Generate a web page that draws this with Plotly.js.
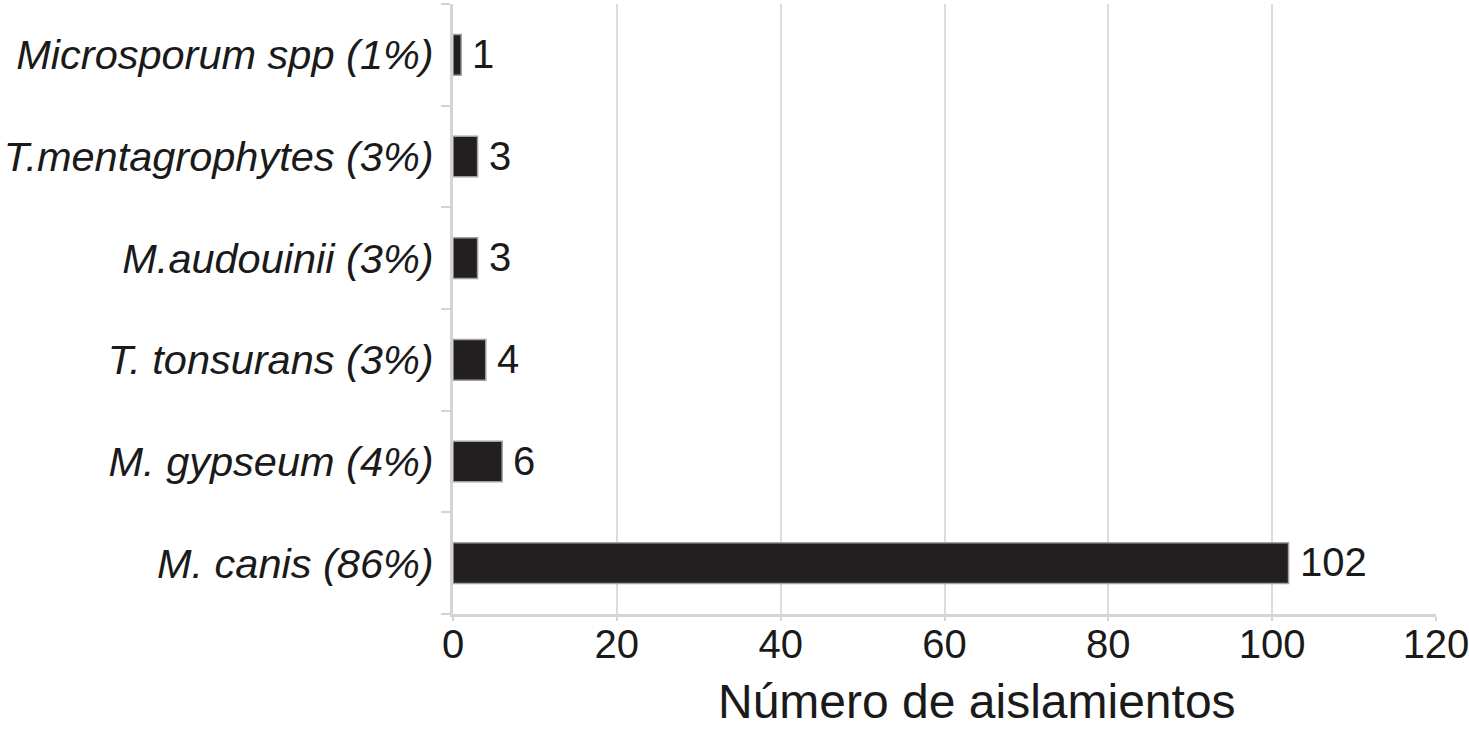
<!DOCTYPE html>
<html>
<head>
<meta charset="utf-8">
<script src="https://cdn.plot.ly/plotly-3.0.1.min.js"></script>
<style>html,body{margin:0;padding:0;background:#fff;}#chart{width:1469px;height:730px;}</style>
</head>
<body>
<div id="chart"></div>
<script>
const categories = ["M. canis (86%)", "M. gypseum (4%)", "T. tonsurans (3%)", "M.audouinii (3%)", "T.mentagrophytes (3%)", "Microsporum spp (1%)"];
const counts = [102, 6, 4, 3, 3, 1];
const xTicks = [0, 20, 40, 60, 80, 100, 120];
const xTitle = "Número de aislamientos";

const trace = {
  type: "bar",
  orientation: "h",
  y: categories,
  x: counts,
  marker: {color: "#231f20", line: {color: "#a0a0a0", width: 1.5}},
  hoverinfo: "x+y"
};

const annotations = categories.map((c, i) => ({
  x: counts[i], y: c, xref: "x", yref: "y",
  text: String(counts[i]), showarrow: false,
  xanchor: "left", xshift: 9, yshift: 1,
  font: {family: "Liberation Sans, Arial, sans-serif", size: 40, color: "#1a1a1a"}
}));
annotations.push({
  x: 0.533, y: 0, xref: "paper", yref: "paper",
  xanchor: "center", yanchor: "middle", yshift: -87,
  text: xTitle, showarrow: false,
  font: {family: "Liberation Sans, Arial, sans-serif", size: 48, color: "#1a1a1a"}
});

const layout = {
  width: 1469, height: 730,
  margin: {l: 453, r: 33, t: 4, b: 116},
  paper_bgcolor: "#fff", plot_bgcolor: "#fff",
  showlegend: false,
  bargap: 0.6,
  font: {family: "Liberation Sans, Arial, sans-serif", color: "#1a1a1a"},
  xaxis: {
    range: [0, 120], tickvals: xTicks, ticktext: xTicks.map(String),
    showgrid: true, gridcolor: "#dcdcdc", gridwidth: 2,
    zeroline: false, showline: true, linecolor: "#d4d4d4", linewidth: 3,
    ticks: "outside", ticklen: 4, tickcolor: "#d4d4d4", tickwidth: 2,
    ticklabelstandoff: -11, ticklabeloverflow: "allow",
    tickfont: {size: 40, color: "#1a1a1a"}
  },
  yaxis: {
    type: "category", range: [-0.5, 5.5],
    showline: true, linecolor: "#d4d4d4", linewidth: 3,
    ticks: "outside", tickson: "boundaries", ticklen: 9, tickcolor: "#d4d4d4", tickwidth: 2,
    showgrid: false, zeroline: false,
    ticklabelstandoff: 8,
    tickfont: {size: 41.5, color: "#1a1a1a", style: "italic"}
  },
  annotations: annotations
};

Plotly.newPlot("chart", [trace], layout, {displayModeBar: false, staticPlot: true});
</script>
</body>
</html>
